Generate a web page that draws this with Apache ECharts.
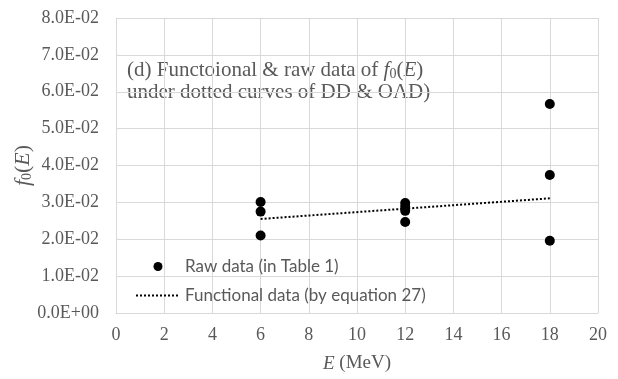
<!DOCTYPE html>
<html><head><meta charset="utf-8">
<script src="https://cdn.jsdelivr.net/npm/echarts@6/dist/echarts.min.js"></script>
<style>html,body{margin:0;padding:0;background:#fff}#c{width:618px;height:379px}</style>
</head><body><div id="c"></div>
<script>
const rawE = [6, 6, 6, 12, 12, 12, 12, 18, 18, 18];
const rawF = [0.0301, 0.0275, 0.0210, 0.0298, 0.0288, 0.0277, 0.0247, 0.0567, 0.0374, 0.0196];
const funcE = [6, 18];
const funcF = [0.0255, 0.0311];
const yTicks = ['0.0E+00','1.0E-02','2.0E-02','3.0E-02','4.0E-02','5.0E-02','6.0E-02','7.0E-02','8.0E-02'];

const gray = '#595959';
const serif = 'Liberation Serif';
const chart = echarts.init(document.getElementById('c'));
chart.setOption({
  animation: false,
  backgroundColor: '#fff',
  grid: {left: 116, right: 20, top: 18, bottom: 66, containLabel: false, outerBoundsMode: 'none'},
  xAxis: {
    type: 'value', min: 0, max: 20, interval: 2,
    axisLine: {show: true, lineStyle: {color: '#d9d9d9'}},
    axisTick: {show: false},
    splitLine: {show: true, lineStyle: {color: '#d9d9d9'}},
    axisLabel: {color: gray, fontFamily: serif, fontSize: 18, margin: 13},
    name: '{i|E} (MeV)', nameLocation: 'middle', nameGap: 41, nameMoveOverlap: false,
    nameTextStyle: {color: gray, fontFamily: serif, fontSize: 19,
      rich: {i: {fontStyle: 'italic', fontFamily: serif, fontSize: 19, color: gray}}}
  },
  yAxis: {
    type: 'value', min: 0, max: 0.08, interval: 0.01,
    axisLine: {show: true, lineStyle: {color: '#d9d9d9'}},
    axisTick: {show: false},
    splitLine: {show: true, lineStyle: {color: '#d9d9d9'}},
    axisLabel: {color: gray, fontFamily: serif, fontSize: 18, margin: 17,
      formatter: (v) => yTicks[Math.round(v * 100)]},
    name: '{i|f}{s|0}{n|(}{i|E}{n|)}', nameLocation: 'middle', nameGap: 82, nameRotate: 90,
    nameMoveOverlap: false,
    nameTextStyle: {color: gray, fontFamily: serif, fontSize: 22,
      rich: {
        i: {fontStyle: 'italic', fontFamily: serif, fontSize: 22, color: gray},
        n: {fontFamily: serif, fontSize: 22, color: gray},
        s: {fontFamily: serif, fontSize: 14, color: gray, verticalAlign: 'bottom', padding: [8,0,0,0]}
      }}
  },
  legend: {
    orient: 'vertical', left: 130, top: 253, itemGap: 12,
    itemWidth: 44, itemHeight: 9,
    textStyle: {color: gray, fontFamily: 'Lato', fontSize: 17},
    data: [
      {name: 'Raw data (in Table 1)', icon: 'circle'},
      {name: 'Functional data (by equation 27)', itemStyle: {opacity: 0}}
    ]
  },
  graphic: [{
    type: 'text', left: 127, top: 59,
    style: {
      text: '(d) Functoional & raw data of {i|f}{s|0}({i|E})\nunder dotted curves of DD & OAD)',
      fill: gray, font: '21px "Liberation Serif"', lineHeight: 22,
      rich: {
        i: {fontStyle: 'italic', fontFamily: serif, fontSize: 21, fill: gray, lineHeight: 22},
        s: {fontFamily: serif, fontSize: 14, fill: gray, verticalAlign: 'bottom', lineHeight: 22}
      }
    }
  }],
  series: [
    {
      name: 'Raw data (in Table 1)', type: 'scatter',
      data: rawE.map((e, i) => [e, rawF[i]]),
      symbol: 'circle', symbolSize: 10,
      itemStyle: {color: '#000', opacity: 1}
    },
    {
      name: 'Functional data (by equation 27)', type: 'line',
      data: funcE.map((e, i) => [e, funcF[i]]),
      symbol: 'none',
      lineStyle: {color: '#000', width: 2, type: [2, 2]},
      itemStyle: {color: '#000'}
    }
  ]
});
</script></body></html>
